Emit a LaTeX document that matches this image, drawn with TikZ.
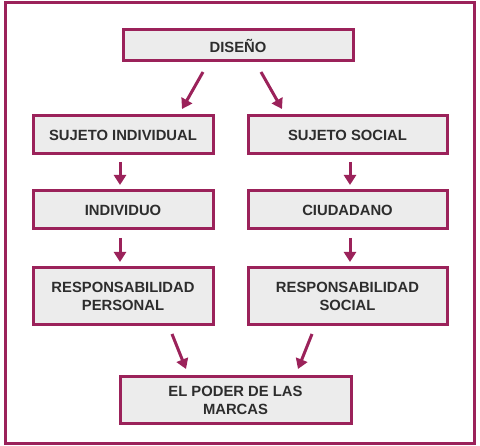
\documentclass[tikz,border=0pt]{standalone}
\usepackage{fontspec}
\setmainfont{Liberation Sans}
\usetikzlibrary{arrows.meta}
\definecolor{crim}{RGB}{155,34,90}
\definecolor{boxfill}{RGB}{236,236,236}
\definecolor{txt}{RGB}{45,45,45}
\begin{document}
\begin{tikzpicture}[x=1pt,y=-1pt,
  box/.style={draw=crim,line width=3pt,fill=boxfill,text=txt,font=\fontsize{14.8}{18}\selectfont\bfseries,align=center,inner sep=0pt},
  arr/.style={draw=crim,line width=3pt,-{Triangle[width=12pt,length=10pt]}}]
\useasboundingbox (0,0) rectangle (480,446);
\draw[crim,line width=3pt] (5,3) rectangle (474,444);
\node[box,minimum width=230pt,minimum height=31pt] (d) at (238,45.5) {DISEÑO};
\node[box,minimum width=180pt,minimum height=38pt] (si) at (123,135) {SUJETO INDIVIDUAL};
\node[box,minimum width=199pt,minimum height=38pt] (ss) at (347.5,135) {SUJETO SOCIAL};
\node[box,minimum width=180pt,minimum height=38pt] (in) at (123,210) {INDIVIDUO};
\node[box,minimum width=199pt,minimum height=38pt] (ci) at (347.5,210) {CIUDADANO};
\node[box,minimum width=180pt,minimum height=57pt] (rp) at (123,296.5) {RESPONSABILIDAD\\PERSONAL};
\node[box,minimum width=199pt,minimum height=57pt] (rs) at (347.5,296.5) {RESPONSABILIDAD\\SOCIAL};
\node[box,minimum width=231pt,minimum height=47pt] (ep) at (235.5,400.5) {EL PODER DE LAS\\MARCAS};
\coordinate (a1s) at (203,72); \coordinate (a1e) at (182,109);
\coordinate (a2s) at (261,72); \coordinate (a2e) at (282,109);
\coordinate (b1s) at (120,162); \coordinate (b1e) at (120,185);
\coordinate (b2s) at (350,162); \coordinate (b2e) at (350,185);
\coordinate (c1s) at (120,238); \coordinate (c1e) at (120,262);
\coordinate (c2s) at (350,238); \coordinate (c2e) at (350,262);
\coordinate (e1s) at (172,334); \coordinate (e1e) at (186,369);
\coordinate (e2s) at (312,334); \coordinate (e2e) at (298,369);
\draw[arr] (a1s) -- (a1e);
\draw[arr] (a2s) -- (a2e);
\draw[arr] (b1s) -- (b1e);
\draw[arr] (b2s) -- (b2e);
\draw[arr] (c1s) -- (c1e);
\draw[arr] (c2s) -- (c2e);
\draw[arr] (e1s) -- (e1e);
\draw[arr] (e2s) -- (e2e);
\end{tikzpicture}
\end{document}
